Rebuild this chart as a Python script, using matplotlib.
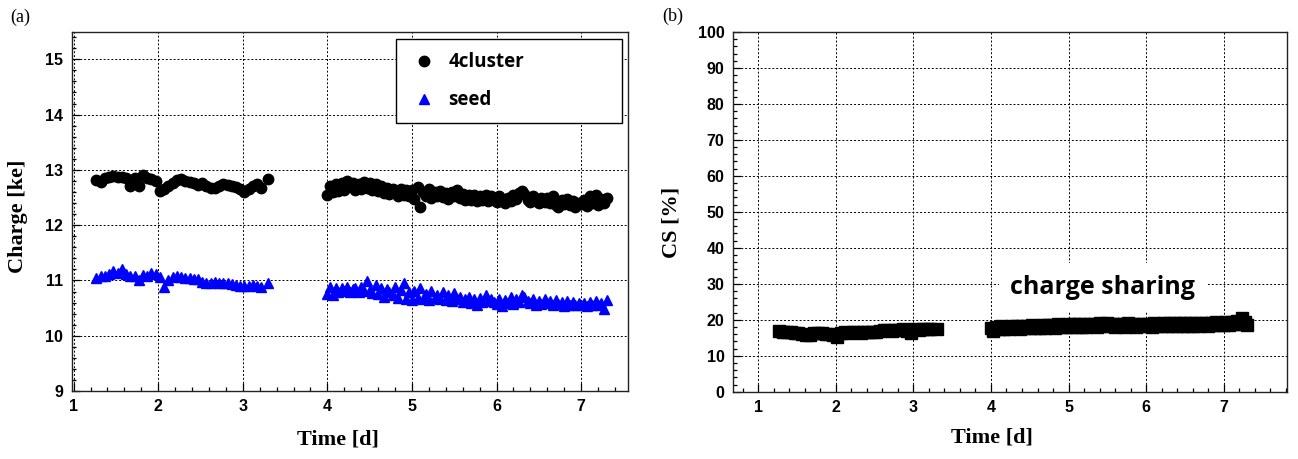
import matplotlib
matplotlib.use("Agg")
import matplotlib.pyplot as plt
from matplotlib.ticker import MultipleLocator

# ---- data ----
# measurement times [d], first and second run
time_run1 = [1.27, 1.32, 1.37, 1.42, 1.47, 1.52, 1.57, 1.62, 1.67, 1.72,
             1.77, 1.82, 1.87, 1.92, 1.97, 2.02, 2.07, 2.12, 2.17, 2.22,
             2.27, 2.32, 2.37, 2.42, 2.47, 2.52, 2.57, 2.62, 2.67, 2.72,
             2.77, 2.82, 2.87, 2.92, 2.97, 3.02, 3.07, 3.12, 3.17, 3.22,
             3.30]
time_run2 = [4.00, 4.03, 4.07, 4.10, 4.13, 4.17, 4.20, 4.23, 4.27, 4.30,
             4.33, 4.37, 4.40, 4.43, 4.47, 4.50, 4.53, 4.57, 4.60, 4.63,
             4.67, 4.70, 4.73, 4.77, 4.80, 4.83, 4.87, 4.90, 4.93, 4.97,
             5.00, 5.03, 5.07, 5.10, 5.13, 5.17, 5.20, 5.23, 5.27, 5.30,
             5.33, 5.37, 5.40, 5.43, 5.47, 5.50, 5.53, 5.57, 5.60, 5.63,
             5.67, 5.70, 5.73, 5.77, 5.80, 5.83, 5.87, 5.90, 5.93, 5.97,
             6.00, 6.03, 6.07, 6.10, 6.13, 6.17, 6.20, 6.23, 6.27, 6.30,
             6.33, 6.37, 6.40, 6.43, 6.47, 6.50, 6.53, 6.57, 6.60, 6.63,
             6.67, 6.70, 6.73, 6.77, 6.80, 6.83, 6.87, 6.90, 6.93, 6.97,
             7.00, 7.03, 7.07, 7.10, 7.13, 7.17, 7.20, 7.23, 7.27, 7.30]

# 4-pixel cluster charge [ke]
cluster_run1 = [12.81, 12.79, 12.85, 12.88, 12.89, 12.88, 12.87, 12.86, 12.71, 12.86,
                12.71, 12.90, 12.86, 12.83, 12.80, 12.62, 12.66, 12.70, 12.76, 12.81,
                12.84, 12.80, 12.78, 12.76, 12.73, 12.76, 12.70, 12.68, 12.68, 12.71,
                12.74, 12.73, 12.71, 12.69, 12.66, 12.60, 12.65, 12.70, 12.74, 12.67,
                12.84]
cluster_run2 = [12.55, 12.70, 12.60, 12.74, 12.62, 12.77, 12.64, 12.80, 12.70, 12.76,
                12.64, 12.74, 12.66, 12.79, 12.68, 12.76, 12.64, 12.74, 12.62, 12.70,
                12.58, 12.68, 12.56, 12.66, 12.60, 12.53, 12.65, 12.55, 12.63, 12.52,
                12.64, 12.48, 12.69, 12.33, 12.60, 12.52, 12.65, 12.50, 12.60, 12.53,
                12.62, 12.51, 12.58, 12.48, 12.60, 12.52, 12.64, 12.50, 12.57, 12.46,
                12.55, 12.45, 12.54, 12.43, 12.52, 12.46, 12.54, 12.44, 12.52, 12.45,
                12.42, 12.52, 12.44, 12.40, 12.50, 12.43, 12.55, 12.48, 12.59, 12.62,
                12.57, 12.46, 12.42, 12.52, 12.44, 12.40, 12.50, 12.42, 12.49, 12.40,
                12.52, 12.36, 12.32, 12.46, 12.38, 12.47, 12.36, 12.44, 12.33, 12.40,
                12.38, 12.46, 12.34, 12.52, 12.40, 12.54, 12.36, 12.48, 12.41, 12.49]

# seed pixel charge [ke]
seed_run1 = [11.05, 11.09, 11.08, 11.12, 11.18, 11.14, 11.20, 11.12, 11.09, 11.08,
             11.00, 11.10, 11.09, 11.13, 11.11, 11.07, 10.89, 11.00, 11.06, 11.09,
             11.07, 11.05, 11.04, 11.02, 11.03, 10.98, 10.96, 10.96, 10.97, 10.96,
             10.95, 10.96, 10.93, 10.91, 10.90, 10.90, 10.90, 10.91, 10.90, 10.88,
             10.95]
seed_run2 = [10.76, 10.88, 10.74, 10.86, 10.79, 10.87, 10.81, 10.89, 10.79, 10.85,
             10.87, 10.79, 10.89, 10.81, 10.99, 10.83, 10.77, 10.91, 10.75, 10.87,
             10.71, 10.85, 10.79, 10.73, 10.89, 10.69, 10.83, 10.95, 10.67, 10.79,
             10.65, 10.81, 10.69, 10.87, 10.67, 10.75, 10.64, 10.81, 10.69, 10.73,
             10.67, 10.79, 10.65, 10.73, 10.63, 10.77, 10.67, 10.71, 10.61, 10.67,
             10.71, 10.59, 10.67, 10.55, 10.69, 10.61, 10.73, 10.63, 10.67, 10.61,
             10.57, 10.67, 10.54, 10.65, 10.59, 10.71, 10.57, 10.67, 10.61, 10.74,
             10.71, 10.63, 10.59, 10.67, 10.55, 10.63, 10.57, 10.67, 10.59, 10.63,
             10.55, 10.65, 10.57, 10.61, 10.54, 10.63, 10.56, 10.61, 10.55, 10.59,
             10.55, 10.59, 10.54, 10.61, 10.56, 10.63, 10.55, 10.59, 10.49, 10.65]

# charge sharing [%]
cs_run1 = [16.8, 16.7, 16.6, 16.5, 16.3, 16.2, 16.0, 15.8, 15.9, 16.3,
           16.4, 16.2, 16.0, 16.1, 15.9, 15.3, 16.4, 16.5, 16.3, 16.5,
           16.6, 16.4, 16.6, 16.5, 16.7, 16.6, 16.9, 17.2, 17.1, 17.0,
           17.2, 17.1, 17.3, 17.0, 16.3, 17.4, 17.2, 17.5, 17.3, 17.4,
           17.5]
cs_run2 = [17.7, 16.8, 18.0, 17.3, 18.2, 17.5, 18.1, 17.4, 18.3, 17.6,
           18.2, 17.5, 18.4, 17.7, 18.3, 17.6, 18.5, 17.8, 18.4, 17.7,
           18.5, 17.8, 18.6, 17.9, 18.5, 17.8, 18.7, 18.0, 18.6, 17.9,
           18.7, 18.0, 18.8, 18.1, 18.7, 18.0, 18.8, 18.1, 18.9, 18.2,
           18.8, 18.1, 19.0, 18.2, 18.9, 19.1, 18.3, 18.8, 18.1, 18.9,
           18.2, 18.8, 18.1, 19.0, 18.3, 18.8, 18.1, 18.9, 18.2, 18.8,
           18.3, 18.9, 18.1, 19.0, 18.3, 18.9, 18.2, 19.1, 18.4, 19.0,
           18.3, 19.1, 18.4, 19.0, 18.3, 19.2, 18.4, 19.0, 18.3, 19.1,
           18.4, 19.2, 18.5, 19.1, 18.4, 19.2, 18.5, 19.3, 18.5, 19.2,
           18.6, 19.3, 18.6, 19.5, 18.7, 19.6, 18.9, 20.5, 19.3, 18.5]

charge_ticks = [9, 10, 11, 12, 13, 14, 15]
cs_ticks = [0, 10, 20, 30, 40, 50, 60, 70, 80, 90, 100]
time_ticks = [1, 2, 3, 4, 5, 6, 7]

TICK_FONT = dict(family="Liberation Sans", weight="bold", size=11.5)
TITLE_FONT = dict(family="Liberation Serif", weight="bold", size=16)
WORD_FONT = "Open Sans"

fig = plt.figure(figsize=(12.98, 4.59), dpi=100)
ax_a = fig.add_axes([0.0551, 0.148, 0.4291, 0.783])
ax_b = fig.add_axes([0.5646, 0.1466, 0.4273, 0.7837])


def style_axes(ax, xticks, yticks, yminor):
    ax.set_xticks(xticks)
    ax.set_yticks(yticks)
    ax.xaxis.set_minor_locator(MultipleLocator(0.2))
    ax.yaxis.set_minor_locator(MultipleLocator(yminor))
    ax.tick_params(which="both", direction="in", top=False, right=False,
                   width=0.9, colors="black")
    ax.tick_params(which="major", length=6, pad=6)
    ax.tick_params(which="minor", length=3)
    for lab in ax.get_xticklabels() + ax.get_yticklabels():
        lab.set_fontfamily(TICK_FONT["family"])
        lab.set_fontweight(TICK_FONT["weight"])
        lab.set_fontsize(TICK_FONT["size"])
    ax.set_axisbelow(True)
    ax.grid(True, which="major", color="black", linestyle=(0, (2, 2)), linewidth=0.7)
    for sp in ax.spines.values():
        sp.set_linewidth(1.0)
        sp.set_color("#222222")


# (a) charge vs time
ax_a.plot(time_run1, cluster_run1, "o", color="black", ms=7.5, label="4cluster")
ax_a.plot(time_run2, cluster_run2, "o", color="black", ms=7.5)
ax_a.plot(time_run1, seed_run1, "^", color="blue", ms=7.5, label="seed")
ax_a.plot(time_run2, seed_run2, "^", color="blue", ms=7.5)
ax_a.set_xlim(0.975, 7.56)
ax_a.set_ylim(9, 15.5)
style_axes(ax_a, time_ticks, charge_ticks, 0.2)
ax_a.set_xlabel("Time [d]", va="center", **TITLE_FONT)
ax_a.set_ylabel("Charge [ke]", va="center", **TITLE_FONT)
ax_a.xaxis.set_label_coords(0.478, -0.136)
ax_a.yaxis.set_label_coords(-0.096, 0.487)

leg = ax_a.legend(loc="upper left", bbox_to_anchor=(0.582, 0.748, 0.406, 0.231),
                  mode="expand", borderaxespad=0, frameon=True, fancybox=False,
                  framealpha=1, edgecolor="black", borderpad=0.7, labelspacing=0.95,
                  handlelength=1.6, handletextpad=0.5,
                  prop=dict(family=WORD_FONT, weight="bold", size=13.5))
leg.get_frame().set_linewidth(1.0)

# (b) charge sharing vs time
ax_b.plot(time_run1, cs_run1, "s", color="black", ms=8)
ax_b.plot(time_run2, cs_run2, "s", color="black", ms=8.5)
ax_b.set_xlim(0.675, 7.82)
ax_b.set_ylim(0, 100)
style_axes(ax_b, time_ticks, cs_ticks, 2)
ax_b.set_xlabel("Time [d]", va="center", **TITLE_FONT)
ax_b.set_ylabel("CS [%]", va="center", **TITLE_FONT)
ax_b.xaxis.set_label_coords(0.467, -0.128)
ax_b.yaxis.set_label_coords(-0.110, 0.47)
ax_b.text(5.44, 29.1, "charge sharing", family=WORD_FONT, weight="bold", size=18,
          ha="center", va="center",
          bbox=dict(boxstyle="square,pad=0.45", facecolor="white", edgecolor="none"))

# panel letters
fig.text(20 / 1298, 1 - 17 / 459, "(a)", family="Liberation Serif", size=13,
         ha="center", va="center")
fig.text(673 / 1298, 1 - 16 / 459, "(b)", family="Liberation Serif", size=13,
         ha="center", va="center")

fig.savefig("out.png", dpi=100)
